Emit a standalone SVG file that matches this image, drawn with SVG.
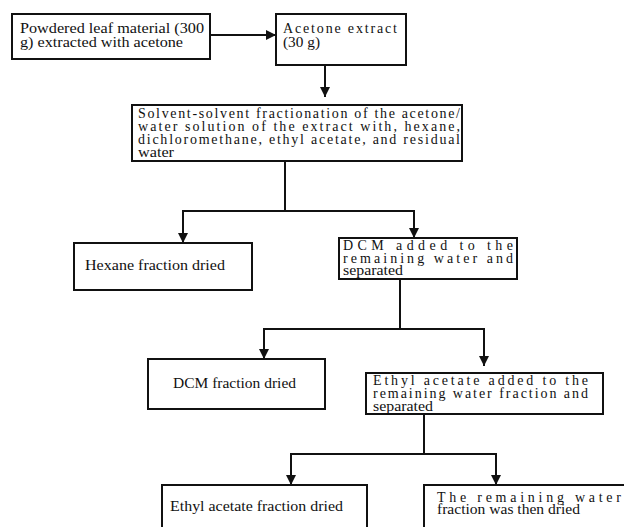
<svg xmlns="http://www.w3.org/2000/svg" width="624" height="527" viewBox="0 0 624 527">
<style>
.box{fill:#fff;stroke:#111;stroke-width:2}
.c{fill:none;stroke:#111;stroke-width:2}
text{font-family:"Liberation Serif","Times New Roman",serif;font-size:14px;fill:#111}
.s{font-size:15px}
</style>
<defs>
<marker id="ah" markerUnits="userSpaceOnUse" markerWidth="10" markerHeight="10" refX="10" refY="5" orient="auto">
<path d="M0,0 L10,5 L0,10 z" fill="#111"/>
</marker>
</defs>
<rect width="624" height="527" fill="#fff"/>
<g id="connectors">
<line class="c" x1="210" y1="35" x2="276" y2="35" marker-end="url(#ah)"/>
<line class="c" x1="325" y1="64" x2="325" y2="97" marker-end="url(#ah)"/>
<polyline class="c" points="285,161 285,211"/>
<polyline class="c" points="183,211 414,211"/>
<line class="c" x1="183" y1="210" x2="183" y2="243" marker-end="url(#ah)"/>
<line class="c" x1="414" y1="210" x2="414" y2="238" marker-end="url(#ah)"/>
<polyline class="c" points="400,279 400,329"/>
<polyline class="c" points="264,329 484,329"/>
<line class="c" x1="264" y1="328" x2="264" y2="359" marker-end="url(#ah)"/>
<line class="c" x1="484" y1="328" x2="484" y2="366" marker-end="url(#ah)"/>
<polyline class="c" points="424,414 424,454"/>
<polyline class="c" points="291,454 496,454"/>
<line class="c" x1="291" y1="453" x2="291" y2="485" marker-end="url(#ah)"/>
<line class="c" x1="496" y1="453" x2="496" y2="485" marker-end="url(#ah)"/>
</g>
<g id="n1">
<rect class="box" x="12" y="14" width="198" height="45"/>
<text x="20" y="33" textLength="184" lengthAdjust="spacingAndGlyphs">Powdered leaf material (300</text>
<text x="20" y="47" textLength="163" lengthAdjust="spacingAndGlyphs">g) extracted with acetone</text>
</g>
<g id="n2">
<rect class="box" x="276" y="14" width="130" height="51"/>
<text x="283" y="33" textLength="114" lengthAdjust="spacing">Acetone extract</text>
<text x="283" y="47" textLength="37" lengthAdjust="spacingAndGlyphs">(30 g)</text>
</g>
<g id="n3">
<rect class="box" x="132" y="105" width="330" height="56"/>
<text x="138" y="118" textLength="322" lengthAdjust="spacing">Solvent-solvent fractionation of the acetone/</text>
<text x="138" y="131" textLength="322" lengthAdjust="spacing">water solution of the extract with, hexane,</text>
<text x="138" y="144" textLength="322" lengthAdjust="spacing">dichloromethane, ethyl acetate, and residual</text>
<text x="138" y="157" textLength="36" lengthAdjust="spacingAndGlyphs">water</text>
</g>
<g id="n4">
<rect class="box" x="74" y="243" width="178" height="47"/>
<text class="s" x="85" y="270" textLength="140" lengthAdjust="spacingAndGlyphs">Hexane fraction dried</text>
</g>
<g id="n5">
<rect class="box" x="339" y="238" width="178" height="41"/>
<text x="343" y="250" textLength="170" lengthAdjust="spacing">DCM added to the</text>
<text x="343" y="263" textLength="170" lengthAdjust="spacing">remaining water and</text>
<text x="343" y="275" textLength="60" lengthAdjust="spacingAndGlyphs">separated</text>
</g>
<g id="n6">
<rect class="box" x="148" y="359" width="177" height="50"/>
<text class="s" x="173" y="388" textLength="123" lengthAdjust="spacingAndGlyphs">DCM fraction dried</text>
</g>
<g id="n7">
<rect class="box" x="366" y="373" width="237" height="41"/>
<text x="373" y="385" textLength="215" lengthAdjust="spacing">Ethyl acetate added to the</text>
<text x="373" y="398" textLength="215" lengthAdjust="spacing">remaining water fraction and</text>
<text x="373" y="411" textLength="60" lengthAdjust="spacingAndGlyphs">separated</text>
</g>
<g id="n8">
<rect class="box" x="162" y="485" width="205" height="50"/>
<text class="s" x="170" y="511" textLength="173" lengthAdjust="spacingAndGlyphs">Ethyl acetate fraction dried</text>
</g>
<g id="n9">
<rect class="box" x="424" y="485" width="210" height="50"/>
<text x="437" y="502" textLength="184" lengthAdjust="spacing">The remaining water</text>
<text x="437" y="514" textLength="143" lengthAdjust="spacingAndGlyphs">fraction was then dried</text>
</g>
</svg>
